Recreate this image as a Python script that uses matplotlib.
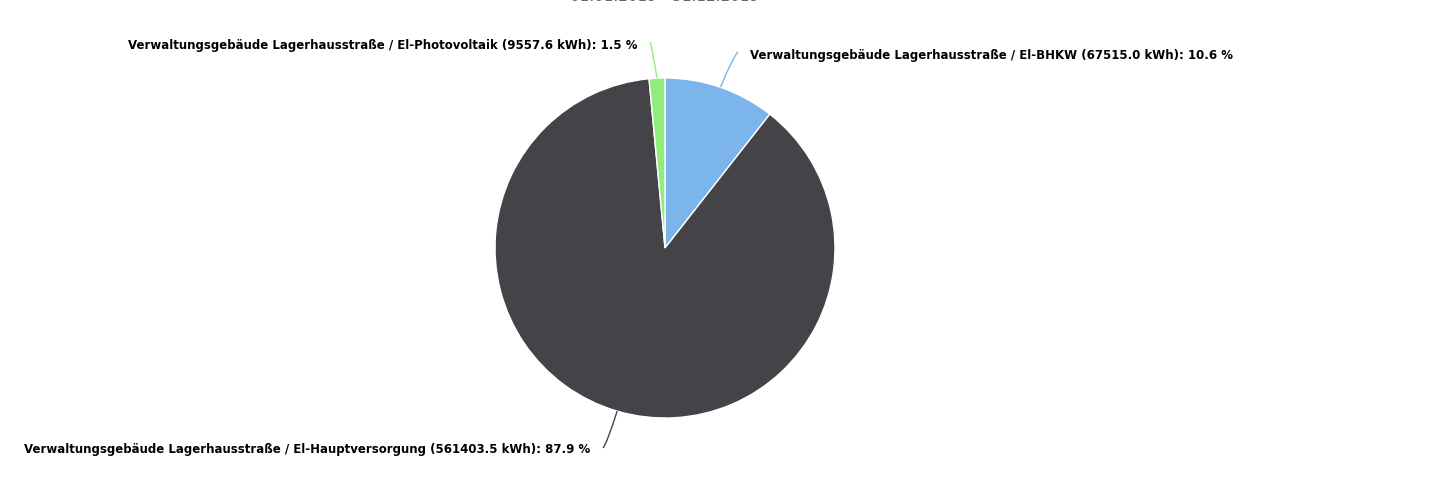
import matplotlib
matplotlib.use("Agg")
import matplotlib.pyplot as plt
from matplotlib.path import Path
from matplotlib.patches import PathPatch
import numpy as np

names = ["Verwaltungsgebäude Lagerhausstraße / El-BHKW",
         "Verwaltungsgebäude Lagerhausstraße / El-Hauptversorgung",
         "Verwaltungsgebäude Lagerhausstraße / El-Photovoltaik"]
values_kwh = [67515.0, 561403.5, 9557.6]
percents = [10.6, 87.9, 1.5]
colors = ["#7cb5ec", "#434348", "#90ed7d"]
subtitle = "01.01.2019 - 31.12.2019"

W, H = 1435, 493
fig = plt.figure(figsize=(W / 100, H / 100), dpi=100)
ax = fig.add_axes([0, 0, 1, 1])

cx, cy, R = 665, H - 248, 170
wedges, _ = ax.pie(values_kwh, colors=colors, startangle=90, counterclock=False,
                   center=(cx, cy), radius=R,
                   wedgeprops=dict(edgecolor="white", linewidth=1.0))
ax.set_xlim(0, W)
ax.set_ylim(0, H)
ax.set_aspect("equal")
ax.axis("off")

# label layout (pixel positions, y measured from top)
label_pos = [(750, 56, "left"), (590, 450, "right"), (638, 45, "right")]
conn_end = [(738, 52), (603, 448), (650, 42)]

for w, name, v, p, col, (lx, ly, ha), (ex, ey) in zip(
        wedges, names, values_kwh, percents, colors, label_pos, conn_end):
    mid = np.deg2rad((w.theta1 + w.theta2) / 2)
    sx, sy = cx + R * np.cos(mid), cy + R * np.sin(mid)
    ex2, ey2 = ex, H - ey
    ctrl = (sx + (ex2 - sx) * 0.75, ey2 + (sy - ey2) * 0.1)
    path = Path([(sx, sy), ctrl, (ex2, ey2)], [Path.MOVETO, Path.CURVE3, Path.CURVE3])
    ax.add_patch(PathPatch(path, facecolor="none", edgecolor=col, linewidth=1.0))
    ax.text(lx, H - ly, f"{name} ({v:.1f} kWh): {p:.1f} %", ha=ha, va="center",
            fontsize=8.45, fontweight="bold", color="#000000",
            family=["DejaVu Sans"])

fig.text(cx / W, 1 - 4 / H, subtitle, ha="center", va="bottom",
         fontsize=11, color="#666666")

fig.savefig("out.png", dpi=100)
